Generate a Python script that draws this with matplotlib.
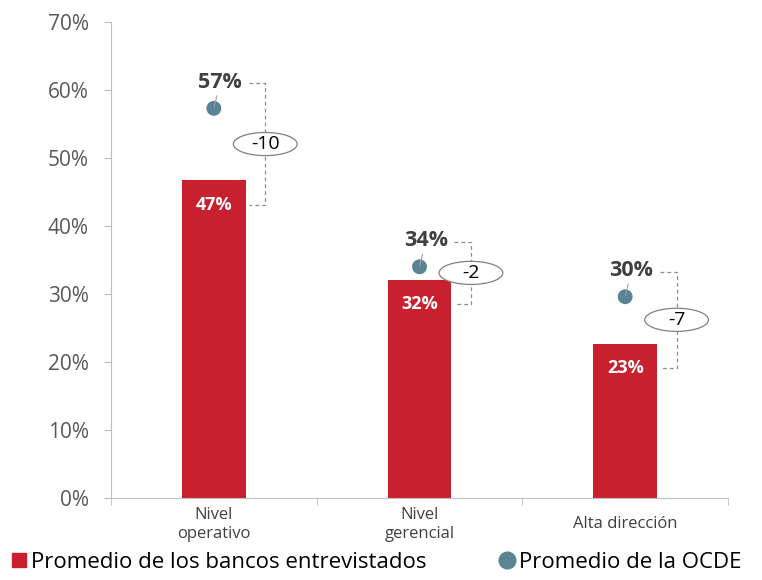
import matplotlib
matplotlib.use("Agg")
import matplotlib.pyplot as plt
from matplotlib.patches import Ellipse
from matplotlib.lines import Line2D

categories = ["Nivel\noperativo", "Nivel\ngerencial", "Alta dirección"]
bancos = [46.7, 32.1, 22.7]
ocde = [57.3, 34.0, 29.6]
yticks = [0, 10, 20, 30, 40, 50, 60, 70]

RED = "#C8202F"
TEAL = "#5A8494"
GREY = "#BFBFBF"
DARK = "#404040"

plt.rcParams["font.family"] = ["Open Sans", "DejaVu Sans"]

fig = plt.figure(figsize=(7.62, 5.8), dpi=100)
ax = fig.add_axes([0.1457, 0.1414, 0.8097, 0.8207])

x = range(len(categories))
ax.bar(x, bancos, width=0.31, color=RED, zorder=2)
ax.scatter(x, ocde, s=115, color=TEAL, zorder=3, edgecolors="none")

for i, (b, o) in enumerate(zip(bancos, ocde)):
    # bar label
    ax.text(i, b - 3.6, f"{round(b)}%", color="white", fontsize=13,
            fontweight="bold", ha="center", va="center", zorder=4)
    # OCDE label with leader line
    ax.annotate(f"{round(o)}%", xy=(i, o), xytext=(i + 0.03, o + 3.8),
                fontsize=15.5, fontweight="bold", color=DARK, ha="center", va="center",
                arrowprops=dict(arrowstyle="-", color="#A0A0A0", lw=0.8,
                                shrinkA=0, shrinkB=1), zorder=4)
    # dashed bracket
    top = o + 3.7
    bot = b - 3.6
    bx = i + 0.25
    ax.plot([i + 0.17, bx, bx, i + 0.17], [top, top, bot, bot],
            ls=(0, (3, 2.5)), color="#8C8C8C", lw=0.9, zorder=1)
    mid = (top + bot) / 2
    ax.add_patch(Ellipse((bx, mid), 0.31, 3.4, facecolor="white",
                         edgecolor="#808080", lw=0.9, zorder=5))
    ax.text(bx, mid, f"{round(b) - round(o)}", fontsize=14, color="black",
            ha="center", va="center", zorder=6)

ax.set_xlim(-0.5, 2.5)
ax.set_ylim(0, 70)
ax.set_yticks(yticks)
ax.set_yticklabels([f"{t}%" for t in yticks], fontsize=15, color="#595959")
ax.set_xticks(list(x))
ax.set_xticklabels(categories, fontsize=12, color="#404040", linespacing=1.2,
                   va="center")
ax.set_xticks([-0.5, 0.5, 1.5, 2.5], minor=True)
ax.tick_params(axis="x", which="major", length=0, pad=19)
ax.tick_params(axis="x", which="minor", length=5, color=GREY)
ax.tick_params(axis="y", length=5, color=GREY, pad=11)

for side in ["top", "right"]:
    ax.spines[side].set_visible(False)
ax.spines["left"].set_color(GREY)
ax.spines["bottom"].set_color(GREY)

handles = [
    Line2D([], [], marker="s", color=RED, ls="none", markersize=10),
    Line2D([], [], marker="o", color=TEAL, ls="none", markersize=12),
]
fig.legend(handles, ["Promedio de los bancos entrevistados", "Promedio de la OCDE"],
           loc="lower left", bbox_to_anchor=(-0.013, -0.022), ncol=2, frameon=False,
           handletextpad=0.15, columnspacing=3.2, handlelength=0.8,
           prop={"family": ["Open Sans", "DejaVu Sans"], "size": 16})

fig.savefig("out.png", dpi=100)
